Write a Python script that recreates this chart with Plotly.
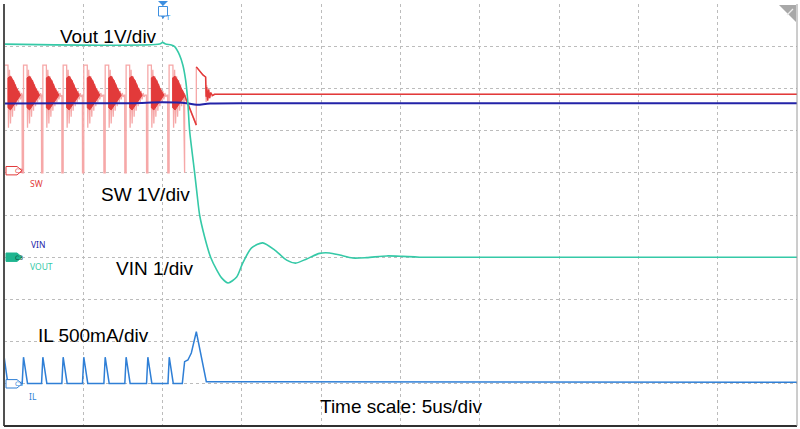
import plotly.graph_objects as go

# ---------------- scope set-up ----------------
T_START, T_END = -10.0, 40.0          # 5 us/div, 10 div, trigger 2 div from left
N_DIV_Y = 10
# channel ground positions (div from bottom) and scales (units/div)
VOUT_POS, VOUT_SCALE = 4.0, 1.0
VIN_POS, VIN_SCALE = 4.0, 1.0
SW_POS, SW_SCALE = 6.05, 1.0
IL_POS, IL_SCALE = 1.0, 0.5

# ---------------- Vout (V) ----------------
VOUT_T = [-10, -0.19, 0.0, 0.19, 0.55, 0.76, 1.07, 1.28, 1.45, 1.58, 1.70, 1.86, 2.02,
          2.18, 2.334, 2.65, 3.028, 3.41, 3.72, 4.13, 4.67, 5.05, 5.61, 6.31,
          7.07, 7.82, 8.39, 9.08, 9.90, 10.53, 11.17, 11.99, 12.87, 14.13, 15.14, 16.21, 40]
VOUT_V = [5.05, 5.05, 5.09, 5.05, 5.03, 4.99, 4.79, 4.55, 4.20, 3.73, 3.01, 2.49, 2.00,
          1.47, 1.00, 0.48, 0.0, -0.30, -0.49, -0.61, -0.47, -0.14, 0.22, 0.34,
          0.17, -0.07, -0.14, -0.04, 0.09, 0.10, 0.05, -0.02, -0.01, 0.03, 0.02, 0.0, 0.0]

# ---------------- VIN (V) ----------------
VIN_T = [-10, -6, -2, 0.0, 1.5, 2.15, 3.0, 6, 15, 25, 40]
VIN_V = [3.64, 3.65, 3.65, 3.67, 3.65, 3.61, 3.64, 3.65, 3.65, 3.65, 3.65]

# ---------------- SW (V) ----------------
SW_PULSE_T = [-9.97, -8.77, -7.55, -6.27, -4.97, -3.62, -2.30, -0.93]
SW_LAST_PULSE_T = 0.41
# switching edge + decaying ringing envelope read from one period (time offset us, V)
SW_RING_DT = [-0.090, -0.080, 0.0, 0.0, 0.221, 0.252, 0.315, 0.379, 0.442, 0.505, 0.568,
              0.631, 0.694, 0.757, 0.820, 0.883, 0.946, 1.009, 1.073, 1.136, 1.199]
SW_RING_V = [1.79, -0.05, -0.05, 2.50, 2.50, 1.02, 2.39, 1.12, 2.24, 1.28, 2.15,
             1.42, 2.05, 1.53, 1.96, 1.62, 1.89, 1.69, 1.84, 1.75, 1.79]
# dense ringing core outline (time offset us, V)
SW_BLOB_DT = [0.221, 0.379, 0.568, 0.757, 1.009, 0.757, 0.568, 0.379, 0.221]
SW_BLOB_V = [2.20, 2.24, 2.13, 1.96, 1.79, 1.65, 1.53, 1.44, 1.49]
# last period and shut-down (us, V) - light trace
SW_LAST_T = [0.320, 0.330, 0.410, 0.410, 0.650, 0.694, 0.757, 0.820, 0.883, 0.946, 1.009,
             1.073, 1.136, 1.199, 1.262, 1.325, 1.344, 1.388, 1.388, 2.126, 2.126, 2.542,
             2.713, 2.744, 2.776, 2.839, 2.902, 2.965, 3.028, 3.091, 3.217, 40.0]
SW_LAST_V = [1.79, -0.05, -0.05, 2.50, 2.50, 1.02, 2.39, 1.12, 2.24, 1.28, 2.15,
             1.42, 2.05, 1.53, 1.91, 1.62, -0.05, -0.05, 1.75, 1.08, 2.46, 2.27,
             2.22, 1.63, 2.03, 1.68, 1.94, 1.72, 1.86, 1.76, 1.81, 1.81]
# shut-down - dark trace
SW_TAIL_T = [1.388, 2.126, None, 2.126, 2.542, 2.713, 2.744, 2.776, 2.839, 2.902, 2.965,
             3.028, 3.154, 3.28, 40.0]
SW_TAIL_V = [1.79, 1.08, None, 2.46, 2.27, 2.22, 1.75, 1.98, 1.66, 1.92, 1.72,
             1.85, 1.78, 1.81, 1.81]

# ---------------- IL (A) ----------------
IL_PULSE_T = [-8.77, -7.55, -6.27, -4.97, -3.62, -2.30, -0.93, 0.42]
IL_PULSE_DT = [-0.082, 0.0, 0.252]
IL_PULSE_A = [0.005, 0.315, 0.005]
IL_START_T = [-10.0, -9.76]
IL_START_A = [0.33, 0.005]
IL_END_T = [1.243, 1.388, 1.596, 1.811, 2.126, 2.442, 2.757, 40.0]
IL_END_A = [0.005, 0.262, 0.282, 0.365, 0.617, 0.321, 0.025, 0.018]

# ---------------- colours ----------------
C_VOUT = "#35c9a7"
C_VIN = "#2323a8"
C_SW = "#e23a3a"
C_SW_LIGHT = "#f6a8a8"
C_IL = "#2f7fd6"
FONT = "Liberation Sans, Arial, sans-serif"

# plot area in pixels
W, H = 800, 429
ML, MR, MT, MB = 4, 3, 4, 3
PW, PH = W - ML - MR, H - MT - MB


def px(x):
    return (x - ML) / PW


def py(y):
    return (H - MB - y) / PH


def div(pos, scale, vals):
    return [None if v is None else pos + v / scale for v in vals]


fig = go.Figure()

# SW light trace (edges + ringing envelope)
sw_x, sw_y = [], []
for t0 in SW_PULSE_T:
    for dt, v in zip(SW_RING_DT, SW_RING_V):
        sw_x.append(t0 + dt)
        sw_y.append(v)
sw_x += SW_LAST_T
sw_y += SW_LAST_V
fig.add_trace(go.Scatter(x=sw_x, y=div(SW_POS, SW_SCALE, sw_y), mode="lines",
                         line=dict(color=C_SW_LIGHT, width=1.3), hoverinfo="skip"))

# SW dense ringing cores
bx, by = [], []
for t0 in SW_PULSE_T + [SW_LAST_PULSE_T]:
    for dt, v in zip(SW_BLOB_DT + SW_BLOB_DT[:1], SW_BLOB_V + SW_BLOB_V[:1]):
        bx.append(t0 + dt)
        by.append(v)
    bx.append(None)
    by.append(None)
fig.add_trace(go.Scatter(x=bx, y=div(SW_POS, SW_SCALE, by), mode="lines", fill="toself",
                         fillcolor=C_SW, line=dict(color=C_SW, width=1), hoverinfo="skip"))
fig.add_trace(go.Scatter(x=SW_TAIL_T, y=div(SW_POS, SW_SCALE, SW_TAIL_V), mode="lines",
                         line=dict(color=C_SW, width=1.5), hoverinfo="skip"))

# VIN
fig.add_trace(go.Scatter(x=VIN_T, y=div(VIN_POS, VIN_SCALE, VIN_V), mode="lines",
                         line=dict(color=C_VIN, width=2, shape="spline"), hoverinfo="skip"))
# Vout
fig.add_trace(go.Scatter(x=VOUT_T, y=div(VOUT_POS, VOUT_SCALE, VOUT_V), mode="lines",
                         line=dict(color=C_VOUT, width=1.6, shape="spline", smoothing=0.7),
                         hoverinfo="skip"))
# IL
il_x, il_a = list(IL_START_T), list(IL_START_A)
for t0 in IL_PULSE_T:
    for dt, a in zip(IL_PULSE_DT, IL_PULSE_A):
        il_x.append(t0 + dt)
        il_a.append(a)
il_x += IL_END_T
il_a += IL_END_A
fig.add_trace(go.Scatter(x=il_x, y=div(IL_POS, IL_SCALE, il_a), mode="lines",
                         line=dict(color=C_IL, width=1.5), hoverinfo="skip"))

# ---------------- text ----------------
texts = [
    ("Vout 1V/div", 108, 36),
    ("SW 1V/div", 145, 194),
    ("VIN 1/div", 155, 268),
    ("IL 500mA/div", 93, 335),
    ("Time scale: 5us/div", 401, 406),
]
ann = []
for t, x, y in texts:
    ann.append(dict(text=t, x=px(x), y=py(y), xref="paper", yref="paper", showarrow=False,
                    xanchor="center", yanchor="middle",
                    font=dict(family=FONT, size=19, color="black")))

small = [
    ("SW", 36, 183, C_SW),
    ("VIN", 38, 245, C_VIN),
    ("VOUT", 41, 266, C_VOUT),
    ("IL", 33, 396, C_IL),
]
for t, x, y, c in small:
    ann.append(dict(text=t, x=px(x), y=py(y), xref="paper", yref="paper", showarrow=False,
                    xanchor="center", yanchor="middle",
                    font=dict(family="Noto Sans, DejaVu Sans, sans-serif", size=8.5, color=c)))

shapes = []
# channel tags
tags = [("C2", SW_POS, C_SW, False), ("C3", VOUT_POS, "#1fb590", True), ("C5", IL_POS, C_IL, False)]
hh = 4.2 / 42.2
for lab, pos, col, filled in tags:
    x0, x1, x2 = px(6), px(17), px(22)
    path = f"M {x0},{pos - hh} L {x1},{pos - hh} L {x2},{pos} L {x1},{pos + hh} L {x0},{pos + hh} Z"
    shapes.append(dict(type="path", path=path, xref="paper", yref="y",
                       fillcolor=col if filled else "white", line=dict(color=col, width=1)))
    ann.append(dict(text=lab, x=px(13), y=pos, xref="paper", yref="y", showarrow=False,
                    font=dict(family="DejaVu Sans, sans-serif", size=6,
                              color="#0b4d3c" if filled else col)))

# borders
shapes.append(dict(type="line", xref="paper", yref="paper", x0=0, x1=0, y0=0, y1=1,
                   line=dict(color="#505050", width=2)))
shapes.append(dict(type="line", xref="paper", yref="paper", x0=0, x1=1, y0=0, y1=0,
                   line=dict(color="#303030", width=2)))
shapes.append(dict(type="line", xref="paper", yref="paper", x0=1, x1=1, y0=0, y1=1,
                   line=dict(color="#9a9a9a", width=1)))
# top-right corner marker
shapes.append(dict(type="path", xref="paper", yref="paper",
                   path=f"M {px(779)},{py(5)} L {px(796)},{py(5)} L {px(796)},{py(22)} Z",
                   fillcolor="#a8a8a8", line=dict(width=0)))
shapes.append(dict(type="line", xref="paper", yref="paper", x0=px(787), y0=py(15), x1=px(793),
                   y1=py(9), line=dict(color="#ececec", width=1.2)))
# trigger marker
C_T = "#3d8fe0"
shapes.append(dict(type="path", xref="paper", yref="paper",
                   path=f"M {px(158)},{py(1)} L {px(168)},{py(1)} L {px(163)},{py(6)} Z",
                   fillcolor=C_T, line=dict(width=0)))
shapes.append(dict(type="rect", xref="paper", yref="paper", x0=px(158.5), x1=px(167.5),
                   y0=py(16), y1=py(6.5), fillcolor="white", line=dict(color=C_T, width=1)))
shapes.append(dict(type="path", xref="paper", yref="paper",
                   path=f"M {px(161)},{py(16)} L {px(165)},{py(16)} L {px(163)},{py(19)} Z",
                   fillcolor=C_T, line=dict(width=0)))
ann.append(dict(text="T", x=px(163), y=py(11.5), xref="paper", yref="paper", showarrow=False,
                font=dict(family="DejaVu Sans, sans-serif", size=7, color=C_T)))

fig.update_layout(
    width=W, height=H,
    margin=dict(l=ML, r=MR, t=MT, b=MB, pad=0),
    paper_bgcolor="white", plot_bgcolor="white",
    showlegend=False,
    annotations=ann, shapes=shapes,
    xaxis=dict(range=[T_START, T_END], tick0=T_START, dtick=5, showgrid=True,
               gridcolor="#bcbcbc", griddash="dot", gridwidth=1, zeroline=False,
               showticklabels=False, ticks="", showline=False, fixedrange=True),
    yaxis=dict(range=[0, N_DIV_Y], tick0=0, dtick=1, showgrid=True,
               gridcolor="#bcbcbc", griddash="dot", gridwidth=1, zeroline=False,
               showticklabels=False, ticks="", showline=False, fixedrange=True),
)

fig.write_html("out.html", config={"displayModeBar": False},
               post_script="document.body.style.margin='0';document.body.style.overflow='hidden';")
